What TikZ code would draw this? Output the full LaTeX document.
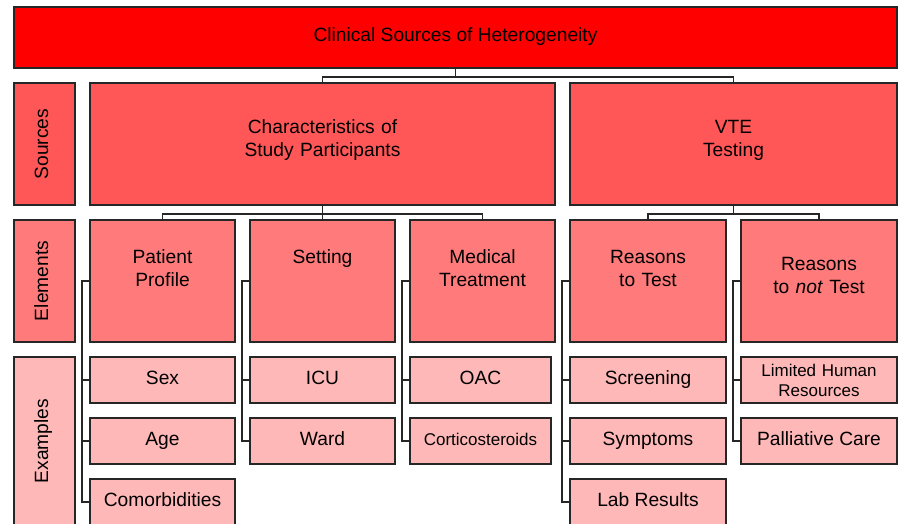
\documentclass[tikz,border=0pt]{standalone}
\usepackage{fontspec}
\setmainfont{Liberation Sans}
\usepackage{xcolor}

\definecolor{srcred}{HTML}{FF5757}
\definecolor{elemred}{HTML}{FF7B7B}
\definecolor{exred}{HTML}{FFB8B8}

\tikzset{
  box/.style={draw=black!85, line width=1.7pt, rectangle, inner sep=0pt,
    font=\fontsize{19.2}{23.5}\selectfont},
  titlebox/.style={box, fill=red, minimum width=883, minimum height=61,
    text height=14, text depth=7},
  srcbox/.style={box, fill=srcred, text width=#1, align=center,
    text height=50, text depth=72},
  elembox/.style={box, fill=elemred, text width=#1, align=center,
    text height=43, text depth=79},
  exbox/.style={box, fill=exred, minimum width=#1, minimum height=46,
    align=center, text height=14, text depth=6},
  rowbox/.style={box, rotate=90, minimum width=#1, minimum height=61,
    text height=14, text depth=7},
  conn/.style={draw=black!85, line width=1.8pt},
}

\begin{document}
\begin{tikzpicture}[x=1pt,y=1pt]
	\useasboundingbox (0,0) rectangle (899,-523);
	%
	\node[titlebox] (title) at (455.5,-37.5) {Clinical Sources of Heterogeneity};
	%
	\node[rowbox=122, fill=srcred] (rsrc) at (44.5,-144) {Sources};
	\node[rowbox=122, fill=elemred] (relem) at (44.5,-281) {Elements};
	\node[rowbox=168, fill=exred] (rex) at (44.5,-441) {Examples};
	%
	\node[srcbox=465] (chars) at (322.5,-144) {Characteristics of\\Study Participants};
	\node[srcbox=327] (vte) at (733.5,-144) {VTE\\Testing};
	%
	\node[elembox=145] (pp) at (162.5,-281) {Patient\\Profile};
	\node[elembox=145] (set) at (322.5,-281) {Setting};
	\node[elembox=145] (med) at (482.5,-281) {Medical\\Treatment};
	\node[elembox=156] (rtt) at (648,-281) {Reasons\\to Test};
	\node[elembox=156, text height=50, text depth=72] (rnt) at (819,-281) {Reasons\\to \textit{not} Test};
	%
	\node[exbox=145] (sex) at (162.5,-380) {Sex};
	\node[exbox=145] (age) at (162.5,-441) {Age};
	\node[exbox=145] (com) at (162.5,-502) {Comorbidities};
	\node[exbox=145] (icu) at (322.5,-380) {ICU};
	\node[exbox=145] (ward) at (322.5,-441) {Ward};
	\node[exbox=141] (oac) at (480.5,-380) {OAC};
	\node[exbox=141, font=\fontsize{17}{20}\selectfont] (cort) at (480.5,-441) {Corticosteroids};
	\node[exbox=156] (scr) at (648,-380) {Screening};
	\node[exbox=156] (sym) at (648,-441) {Symptoms};
	\node[exbox=156] (lab) at (648,-502) {Lab Results};
	\node[exbox=156, text width=156, font=\fontsize{17}{20}\selectfont,
	  text height=19, text depth=27] (lim) at (819,-380) {Limited Human\\Resources};
	\node[exbox=156] (pal) at (819,-441) {Palliative Care};
	%
	\foreach \up/\dn in {title/chars,title/vte,chars/pp,chars/set,chars/med,vte/rtt,vte/rnt}
	  \draw[conn] (\up.south) -- ++(0,-8) -| (\dn.north);
	%
	\foreach \el/\ex in {pp/sex,pp/age,pp/com,set/icu,set/ward,med/oac,med/cort,
	  rtt/scr,rtt/sym,rtt/lab,rnt/lim,rnt/pal}
	  \draw[conn] (\el.west) -- ++(-7,0) |- (\ex.west);
\end{tikzpicture}
\end{document}
